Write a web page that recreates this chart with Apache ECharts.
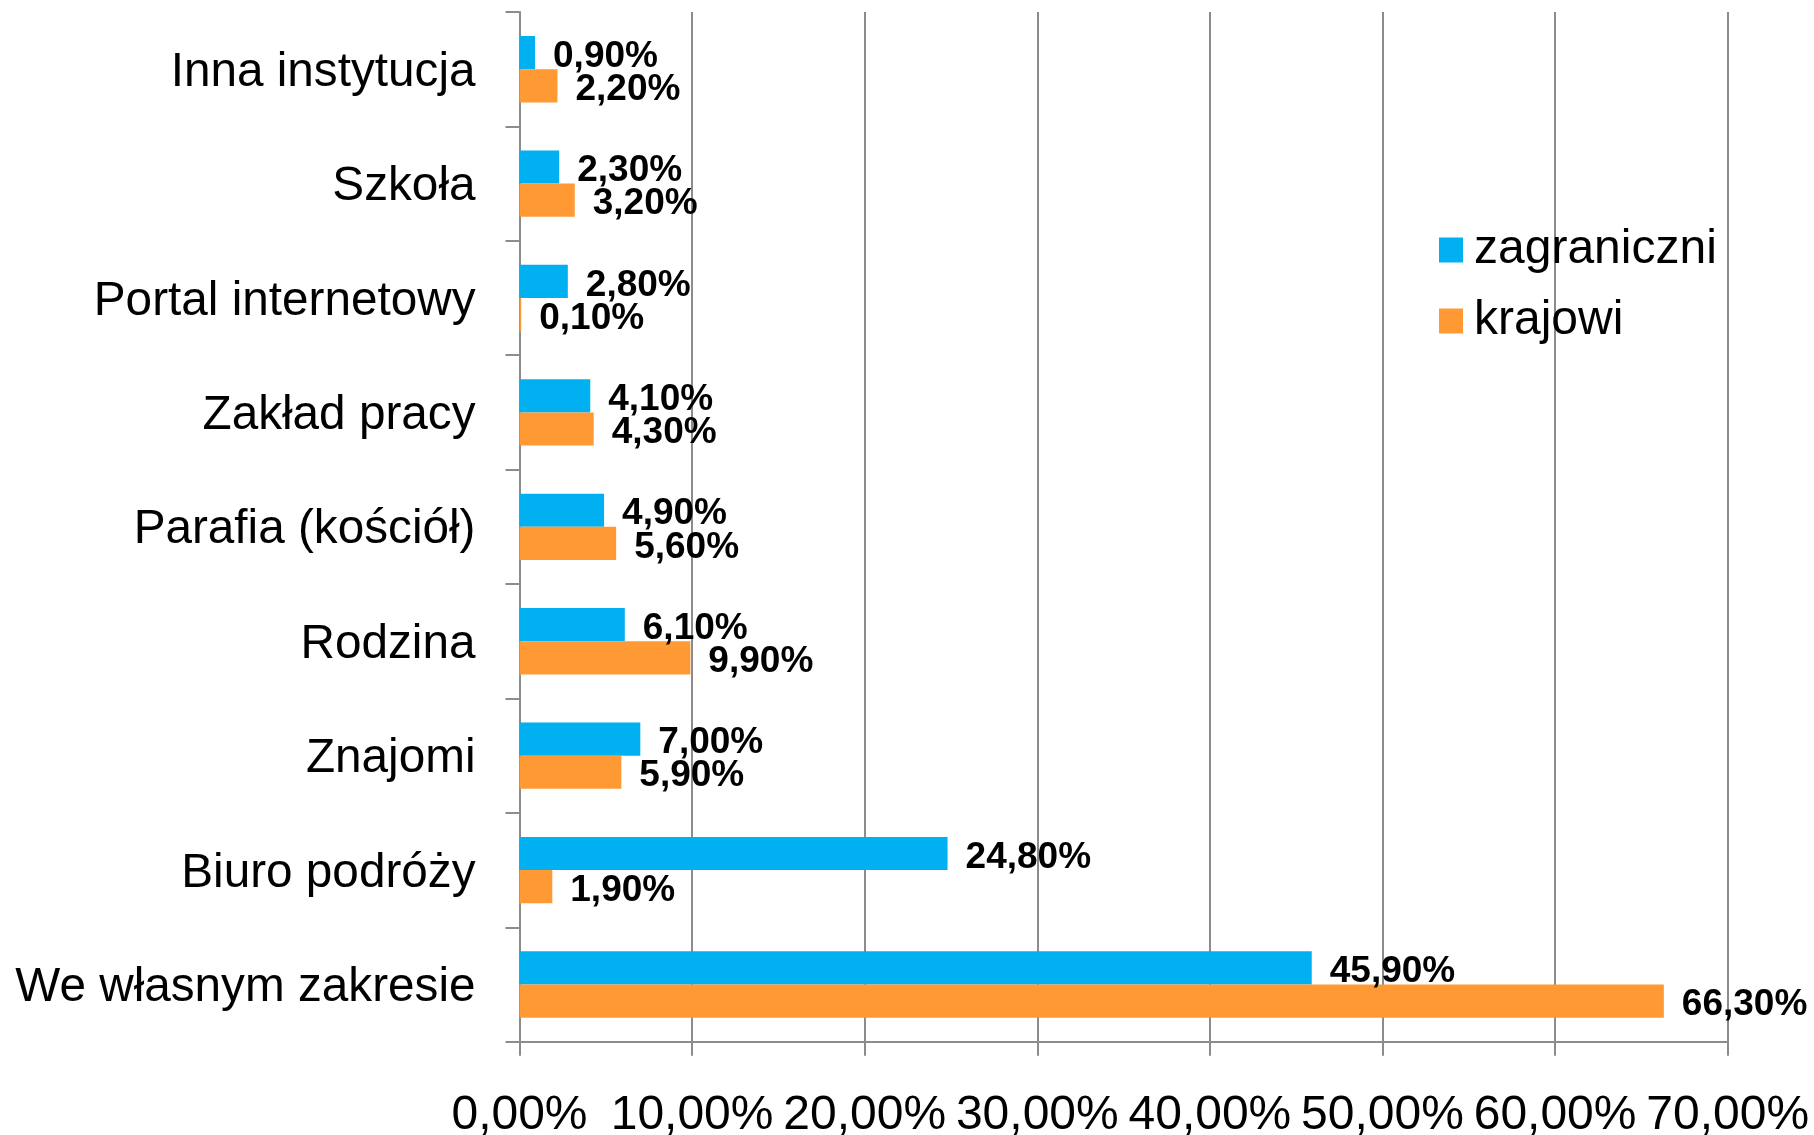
<!DOCTYPE html>
<html>
<head>
<meta charset="utf-8">
<script src="https://cdn.jsdelivr.net/npm/echarts@6/dist/echarts.min.js"></script>
<style>
  html, body { margin: 0; padding: 0; background: #ffffff; }
  #chart { width: 1814px; height: 1135px; }
</style>
</head>
<body>
<div id="chart"></div>
<script>
// Categories listed bottom-to-top (ECharts draws the first category at the bottom)
const categories = [
  'We własnym zakresie',
  'Biuro podróży',
  'Znajomi',
  'Rodzina',
  'Parafia (kościół)',
  'Zakład pracy',
  'Portal internetowy',
  'Szkoła',
  'Inna instytucja'
];
const zagraniczni = [45.9, 24.8, 7.0, 6.1, 4.9, 4.1, 2.8, 2.3, 0.9];
const krajowi = [66.3, 1.9, 5.9, 9.9, 5.6, 4.3, 0.1, 3.2, 2.2];
const seriesNames = ['zagraniczni', 'krajowi'];
const xTicks = [0, 10, 20, 30, 40, 50, 60, 70];

const pct = v => Number(v).toFixed(2).replace('.', ',') + '%';
const gridColor = '#8c8c8c';
const fontFamily = '"Liberation Sans", Arial, sans-serif';

const chart = echarts.init(document.getElementById('chart'));

const valueLabel = {
  show: true,
  position: 'right',
  distance: 18,
  offset: [0, 4],
  formatter: p => pct(p.value),
  color: '#000',
  fontFamily: fontFamily,
  fontWeight: 'bold',
  fontSize: 37
};

chart.setOption({
  animation: false,
  backgroundColor: '#ffffff',
  grid: {
    left: 519.5, right: 86.3, top: 12, bottom: 93.3,
    containLabel: false,
    outerBoundsMode: 'none'
  },
  legend: {
    orient: 'vertical',
    left: 1439,
    top: 226,
    padding: 0,
    itemWidth: 24,
    itemHeight: 25,
    itemGap: 23,
    icon: 'rect',
    data: seriesNames,
    textStyle: { fontFamily: fontFamily, fontSize: 48, color: '#000', padding: [0, 0, 0, 6] }
  },
  xAxis: {
    type: 'value',
    min: xTicks[0],
    max: xTicks[xTicks.length - 1],
    interval: 10,
    axisLine: { show: true, lineStyle: { color: gridColor, width: 2 } },
    axisTick: { show: true, length: 14, lineStyle: { color: gridColor, width: 2 } },
    splitLine: { show: true, lineStyle: { color: gridColor, width: 2 } },
    axisLabel: {
      margin: 50,
      formatter: v => pct(v),
      color: '#000',
      fontFamily: fontFamily,
      fontSize: 48
    }
  },
  yAxis: {
    type: 'category',
    data: categories,
    axisLine: { show: true, lineStyle: { color: gridColor, width: 2 } },
    axisTick: { show: true, length: 14, alignWithLabel: false, lineStyle: { color: gridColor, width: 2 } },
    splitLine: { show: false },
    axisLabel: {
      margin: 44,
      color: '#000',
      fontFamily: fontFamily,
      fontSize: 47.7,
      verticalAlign: 'top',
      lineHeight: 7
    }
  },
  series: [
    {
      name: seriesNames[0],
      type: 'bar',
      data: zagraniczni,
      itemStyle: { color: '#00b0f0' },
      barGap: '0%',
      barCategoryGap: '42%',
      label: valueLabel
    },
    {
      name: seriesNames[1],
      type: 'bar',
      data: krajowi,
      itemStyle: { color: '#ff9933' },
      barGap: '0%',
      barCategoryGap: '42%',
      label: valueLabel
    }
  ]
});
</script>
</body>
</html>
